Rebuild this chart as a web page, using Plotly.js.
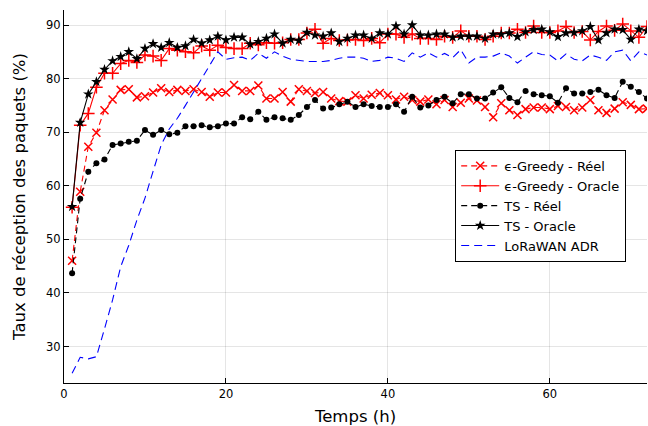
<!DOCTYPE html>
<html>
<head>
<meta charset="utf-8">
<script src="https://cdn.plot.ly/plotly-3.0.1.min.js"></script>
<style>html,body{margin:0;padding:0;background:#fff;}#chart{width:648px;height:426px;}</style>
</head>
<body>
<div id="chart"></div>
<script>
const hours = Array.from({length: 72}, (_, i) => i + 1);

const egreedyReel = [46.0,58.9,67.3,69.9,74.1,76.1,77.9,78.0,76.5,76.7,77.4,78.2,77.5,77.9,77.7,78.0,77.5,76.6,77.4,77.4,78.8,77.7,77.7,78.7,
  76.3,76.3,77.5,75.7,78.0,77.7,77.3,77.5,76.3,75.8,75.7,76.9,76.3,77.0,77.3,76.9,76.1,76.6,76.0,75.7,76.1,75.2,76.0,
  74.7,75.5,76.3,75.9,74.7,72.8,75.4,74.1,73.2,74.3,74.6,74.6,74.3,74.9,74.7,74.1,74.6,76.0,74.1,73.6,74.4,75.6,75.1,74.3,74.4];

const egreedyOracle = [56.0,71.3,73.5,78.4,81.0,81.0,82.8,83.4,83.0,84.4,84.2,83.4,85.6,85.3,85.0,84.8,86.1,85.3,86.2,85.8,85.6,85.6,86.6,86.3,
  86.7,86.6,86.7,87.3,87.3,88.5,89.2,86.6,87.5,87.1,87.2,87.3,87.1,87.5,86.7,88.3,88.3,87.7,88.3,87.5,87.5,87.3,87.9,
  87.7,88.9,87.9,87.9,87.3,87.9,88.5,88.5,89.2,88.6,89.8,88.6,88.6,88.9,89.7,88.6,88.8,87.2,88.8,89.8,89.0,90.2,88.9,87.7,89.7];

const tsReel = [43.7,57.6,62.6,64.2,64.9,67.6,67.9,68.2,68.4,70.4,69.5,70.4,69.6,69.9,71.1,71.1,71.3,70.9,71.1,71.6,71.6,72.8,72.4,73.8,
  72.3,72.8,72.6,72.3,73.2,74.7,76.0,74.4,74.6,75.2,75.7,74.7,75.2,74.9,74.7,74.7,75.2,73.8,76.6,74.6,75.0,76.0,76.6,
  75.4,77.1,77.1,76.3,76.3,77.4,78.4,76.4,75.6,77.7,77.1,76.9,76.7,75.5,78.2,77.2,77.2,77.5,77.9,76.9,76.4,79.4,78.5,77.5,76.3];

const tsOracle = [56.1,71.8,77.1,79.4,81.7,83.3,84.1,85.0,83.7,85.6,86.5,85.8,86.7,85.8,86.1,87.3,86.6,87.2,87.9,87.2,87.7,87.7,86.4,86.9,
  87.5,88.3,86.6,87.3,87.1,88.6,88.1,87.9,88.5,86.9,87.5,88.1,88.1,87.5,88.5,88.3,89.8,88.3,90.0,88.1,88.1,88.3,88.3,
  87.7,87.9,87.9,87.9,87.5,88.3,88.3,88.5,87.8,88.7,89.1,89.2,88.7,87.8,88.5,88.6,88.9,89.7,87.2,88.5,89.2,89.1,87.3,89.2,88.9];

const lorawanAdr = [25.0,28.0,27.7,28.1,33.3,38.7,44.9,48.9,53.6,57.7,62.7,67.6,70.6,72.6,75.0,77.5,80.0,82.5,85.0,83.6,83.9,84.0,83.4,84.7,
  83.8,85.0,84.2,83.6,83.4,83.2,83.2,83.2,83.4,83.8,84.0,84.0,83.8,83.2,83.4,84.0,83.8,83.2,84.8,84.0,84.8,84.0,84.7,
  83.9,85.4,82.9,84.0,84.0,84.2,84.8,84.2,82.9,84.0,85.0,84.5,84.4,83.3,84.6,83.6,83.3,84.4,84.0,83.4,85.0,85.3,83.3,85.0,84.4];

const seriesNames = ['ϵ-Greedy - Réel', 'ϵ-Greedy - Oracle', 'TS - Réel', 'TS - Oracle', 'LoRaWAN ADR'];
const xTicks = [0, 20, 40, 60];
const yTicks = [30, 40, 50, 60, 70, 80, 90];

const traces = [
  {x: hours, y: egreedyReel, name: seriesNames[0], mode: 'lines+markers',
   line: {color: '#ff0000', width: 1.1, dash: '6px,4px'},
   marker: {symbol: 'x-thin', size: 8, color: '#ff0000', line: {color: '#ff0000', width: 1.5}}},
  {x: hours, y: egreedyOracle, name: seriesNames[1], mode: 'lines+markers',
   line: {color: '#ff0000', width: 1.1},
   marker: {symbol: 'cross-thin', size: 9, color: '#ff0000', line: {color: '#ff0000', width: 1.5}}},
  {x: hours, y: tsReel, name: seriesNames[2], mode: 'lines+markers',
   line: {color: '#000000', width: 1.1, dash: '6px,4px'},
   marker: {symbol: 'circle', size: 6, color: '#000000'}},
  {x: hours, y: tsOracle, name: seriesNames[3], mode: 'lines+markers',
   line: {color: '#000000', width: 1.1},
   marker: {symbol: 'star', size: 8, color: '#000000'}},
  {x: hours, y: lorawanAdr, name: seriesNames[4], mode: 'lines',
   line: {color: '#0000ff', width: 1.1, dash: '8px,5px'}}
];

const layout = {
  width: 648, height: 426,
  margin: {l: 64, r: 1, t: 10, b: 43},
  paper_bgcolor: '#ffffff', plot_bgcolor: '#ffffff',
  font: {family: 'DejaVu Sans, sans-serif', color: '#000000', size: 11},
  showlegend: true,
  legend: {x: 0.671, y: 0.625, xanchor: 'left', yanchor: 'top',
    bgcolor: '#ffffff', bordercolor: '#000000', borderwidth: 1,
    font: {family: 'DejaVu Sans, sans-serif', size: 13, color: '#000000'},
    tracegroupgap: 0, itemwidth: 38},
  xaxis: {range: [0, 72], tickvals: xTicks, ticktext: xTicks.map(String),
    showgrid: true, gridcolor: 'rgba(0,0,0,0.1)', gridwidth: 1,
    zeroline: false, showline: true, linecolor: '#000000', linewidth: 1,
    ticks: 'inside', ticklen: 5, tickcolor: '#000000',
    tickfont: {size: 11.5},
    title: {text: 'Temps (h)', font: {size: 16.5}, standoff: 11}},
  yaxis: {range: [23.2, 92.8], tickvals: yTicks, ticktext: yTicks.map(String),
    showgrid: true, gridcolor: 'rgba(0,0,0,0.1)', gridwidth: 1,
    zeroline: false, showline: true, linecolor: '#000000', linewidth: 1,
    ticks: 'inside', ticklen: 5, tickcolor: '#000000',
    tickfont: {size: 11.5},
    title: {text: 'Taux de réception des paquets (%)', font: {size: 16.5}, standoff: 16}}
};

Plotly.newPlot('chart', traces, layout, {displayModeBar: false, staticPlot: true});
</script>
</body>
</html>
